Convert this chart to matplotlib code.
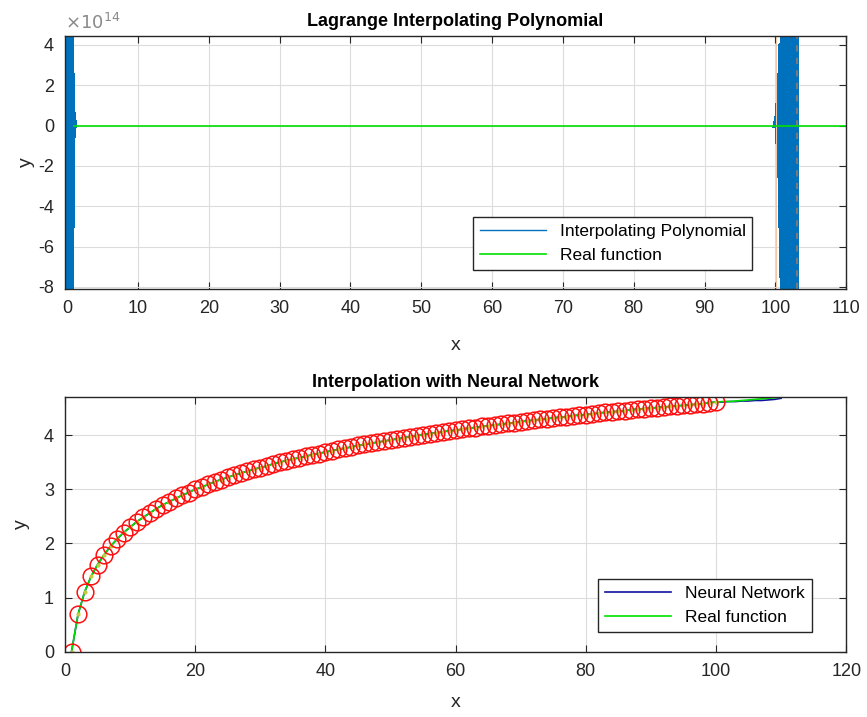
import numpy as np
import matplotlib
matplotlib.use("Agg")
import matplotlib.pyplot as plt
from matplotlib.ticker import FuncFormatter
from matplotlib.lines import Line2D

plt.rcParams['font.family'] = ['Liberation Sans', 'DejaVu Sans']
plt.rcParams['axes.unicode_minus'] = False
plt.rcParams['path.simplify'] = False  # keep every zig of the polynomial

# ---- data: sample points of the real function (y = ln x)
x_real = np.arange(1, 111)
y_real = [0.00, 0.69, 1.10, 1.39, 1.61, 1.79, 1.95, 2.08, 2.20, 2.30,
          2.40, 2.48, 2.56, 2.64, 2.71, 2.77, 2.83, 2.89, 2.94, 3.00,
          3.04, 3.09, 3.14, 3.18, 3.22, 3.26, 3.30, 3.33, 3.37, 3.40,
          3.43, 3.47, 3.50, 3.53, 3.56, 3.58, 3.61, 3.64, 3.66, 3.69,
          3.71, 3.74, 3.76, 3.78, 3.81, 3.83, 3.85, 3.87, 3.89, 3.91,
          3.93, 3.95, 3.97, 3.99, 4.01, 4.03, 4.04, 4.06, 4.08, 4.09,
          4.11, 4.13, 4.14, 4.16, 4.17, 4.19, 4.20, 4.22, 4.23, 4.25,
          4.26, 4.28, 4.29, 4.30, 4.32, 4.33, 4.34, 4.36, 4.37, 4.38,
          4.39, 4.41, 4.42, 4.43, 4.44, 4.45, 4.47, 4.48, 4.49, 4.50,
          4.51, 4.52, 4.53, 4.54, 4.55, 4.56, 4.57, 4.58, 4.60, 4.61,
          4.62, 4.62, 4.63, 4.64, 4.65, 4.66, 4.67, 4.68, 4.69, 4.70]
n_train = 100

# neural network output beyond the training points (slightly under the curve)
nn_tail = [4.61, 4.62, 4.62, 4.63, 4.63, 4.64, 4.64, 4.65, 4.66, 4.68]

# Lagrange polynomial (units of 1e14), wild oscillation near both ends
poly_x_left = [-0.40, -0.35, -0.30, -0.25, -0.20, -0.15, -0.10, -0.05, 0.00,
               0.05, 0.10, 0.15, 0.20, 0.25, 0.30, 0.35, 0.40, 0.45, 0.50,
               0.55, 0.60, 0.65, 0.70, 0.75, 0.80, 0.85, 0.90, 0.95, 1.00]
poly_y_left = [-12, 9, -12, 9, -12, 9, -12, 9, -12,
               9, -12, 9, -12, 9, -12, 9, -12, 9, -12,
               9, -12, 6, -5, 2.5, -1.0, 0.6, -0.5, 0.3, 0.0]
poly_x_right = [100.0, 100.2, 100.3, 100.4, 100.5, 100.6, 100.7, 100.8, 100.9, 101.0,
                101.05, 101.1, 101.15, 101.2, 101.25, 101.3, 101.35, 101.4, 101.45, 101.5,
                101.55, 101.6, 101.65, 101.7, 101.75, 101.8, 101.85, 101.9, 101.95, 102.0,
                102.05, 102.1, 102.15, 102.2, 102.25, 102.3, 102.35, 102.4, 102.45, 102.5,
                102.55, 102.6, 102.65, 102.7, 102.75, 102.8, 102.85, 102.9, 102.95, 103.0]
poly_y_right = [0.0, 0.4, -0.8, 1.5, -2.5, 2.5, -5.0, 4.0, -7.5, 6.0,
                -12, 9, -12, 9, -12, 9, -12, 9, -12, 9,
                -12, 9, -12, 9, -12, 9, -12, 9, -12, 9,
                -12, 9, -12, 9, -12, 9, -12, 9, -12, 9,
                -12, 9, -12, 9, -12, 9, -12, 9, -12, 9]

blue = '#0072BD'
green = '#00e000'
dark = '#262626'

fig = plt.figure(figsize=(8.67, 7.17), dpi=100)
ax1 = fig.add_axes([0.075, 0.597, 0.901, 0.353])
ax2 = fig.add_axes([0.075, 0.091, 0.901, 0.355])


def style(ax):
    ax.grid(True, color='#dcdcdc', linewidth=0.8)
    ax.set_axisbelow(True)
    ax.tick_params(direction='in', top=True, right=True, labelsize=13,
                   colors=dark, length=5, pad=8)
    for s in ax.spines.values():
        s.set_color(dark)
        s.set_linewidth(1.0)


# ---- top: Lagrange interpolating polynomial
for px, py in [(poly_x_left, poly_y_left), (poly_x_right, poly_y_right)]:
    ax1.plot(np.array(px), np.array(py) * 1e14, color=blue, lw=3.0,
             solid_joinstyle='round', antialiased=False)
ax1.axvline(100.1, color='#f0c8a8', lw=0.8)
ax1.axvline(103.1, color='#b07a60', lw=1.5, ls=(0, (3, 3)), alpha=0.7)
ax1.plot(x_real, np.zeros(len(x_real)), color=green, lw=1.2)
ax1.set_xlim(-0.3, 110)
ax1.set_ylim(-8.1e14, 4.45e14)
ax1.set_xticks(np.arange(0, 111, 10))
ax1.set_yticks(np.arange(-8, 5, 2) * 1e14)
ax1.yaxis.set_major_formatter(FuncFormatter(lambda v, p: f"{v / 1e14:g}"))
style(ax1)
ax1.text(0.0, 1.012, r'$\times10^{14}$', transform=ax1.transAxes, fontsize=13,
         color='#8a8a8a', ha='left', va='bottom')
ax1.set_title('Lagrange Interpolating Polynomial', fontsize=13, fontweight='bold', pad=7)
ax1.set_xlabel('x', fontsize=14, color=dark, labelpad=14)
ax1.set_ylabel('y', fontsize=14, color=dark, labelpad=2)
h1 = [Line2D([], [], color=blue, lw=1.0), Line2D([], [], color=green, lw=1.2)]
ax1.legend(h1, ['Interpolating Polynomial', 'Real function'], loc='lower right',
           bbox_to_anchor=(0.88, 0.075), fontsize=12.5, fancybox=False, framealpha=1,
           edgecolor=dark, handlelength=3.8, borderaxespad=0)

# ---- bottom: neural network interpolation
nn_y = list(y_real[:n_train]) + nn_tail
ax2.plot(x_real, nn_y, color='#1010a0', lw=1.2)
ax2.plot(x_real, y_real, color=green, lw=1.2)
ax2.plot(x_real[:n_train], y_real[:n_train], ls='none', marker='.', ms=4,
         color='#c8c840')
ax2.plot(x_real[:n_train], y_real[:n_train], ls='none', marker='o', ms=12,
         mfc='none', mec='#ff1010', mew=1.1)
ax2.set_xlim(0, 120)
ax2.set_ylim(0, 4.70)
ax2.set_xticks(np.arange(0, 121, 20))
ax2.set_yticks(np.arange(0, 5, 1))
style(ax2)
ax2.set_title('Interpolation with Neural Network', fontsize=13, fontweight='bold', pad=7)
ax2.set_xlabel('x', fontsize=14, color=dark, labelpad=10)
ax2.set_ylabel('y', fontsize=14, color=dark, labelpad=10)
h2 = [Line2D([], [], color='#1010a0', lw=1.2), Line2D([], [], color=green, lw=1.2)]
ax2.legend(h2, ['Neural Network', 'Real function'], loc='lower right',
           bbox_to_anchor=(0.956, 0.078), fontsize=12.5, fancybox=False, framealpha=1,
           edgecolor=dark, handlelength=3.8, borderaxespad=0)

fig.savefig('out.png', dpi=100, facecolor='white')
